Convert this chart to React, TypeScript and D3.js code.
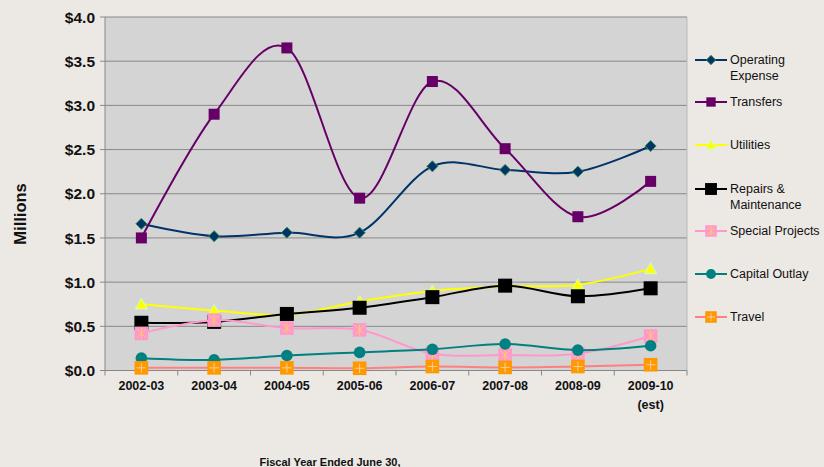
import React from "react";
import * as d3 from "d3";

const categories = ["2002-03", "2003-04", "2004-05", "2005-06", "2006-07", "2007-08", "2008-09", "2009-10"];
const yTicks = [0, 0.5, 1.0, 1.5, 2.0, 2.5, 3.0, 3.5, 4.0];

const operatingExpense = [1.66, 1.52, 1.56, 1.56, 2.31, 2.27, 2.25, 2.54];
const transfers = [1.50, 2.90, 3.65, 1.95, 3.27, 2.51, 1.74, 2.14];
const utilities = [0.75, 0.68, 0.63, 0.78, 0.90, 0.95, 0.97, 1.15];
const repairs = [0.54, 0.55, 0.64, 0.71, 0.83, 0.96, 0.84, 0.93];
const specialProjects = [0.42, 0.57, 0.48, 0.46, 0.19, 0.175, 0.19, 0.39];
const capitalOutlay = [0.14, 0.12, 0.17, 0.205, 0.24, 0.30, 0.23, 0.28];
const travel = [0.03, 0.03, 0.03, 0.025, 0.045, 0.035, 0.045, 0.065];

type Marker = "diamond" | "square" | "triangle" | "bigsquare" | "starsquare" | "circle" | "plussquare";
interface Series { name: string[]; values: number[]; color: string; marker: Marker; }

const series: Series[] = [
  { name: ["Operating", "Expense"], values: operatingExpense, color: "#003366", marker: "diamond" },
  { name: ["Transfers"], values: transfers, color: "#660066", marker: "square" },
  { name: ["Utilities"], values: utilities, color: "#FFFF00", marker: "triangle" },
  { name: ["Repairs &", "Maintenance"], values: repairs, color: "#000000", marker: "bigsquare" },
  { name: ["Special Projects"], values: specialProjects, color: "#FF99CC", marker: "starsquare" },
  { name: ["Capital Outlay"], values: capitalOutlay, color: "#008080", marker: "circle" },
  { name: ["Travel"], values: travel, color: "#FF8080", marker: "plussquare" },
];

const legendY = [60, 102, 145, 189, 231, 274, 317];

const W = 824, H = 467;
const plot = { left: 105, right: 687, top: 17, bottom: 370.5 };

function MarkerShape({ m, x, y, color, legend }: { m: Marker; x: number; y: number; color: string; legend?: boolean }) {
  const s = legend ? 0.85 : 1;
  switch (m) {
    case "diamond": {
      const r = 5.5 * s;
      return <path d={`M${x},${y - r}L${x + r},${y}L${x},${y + r}L${x - r},${y}Z`} fill="#003366" stroke="#2E8B57" strokeWidth={1} />;
    }
    case "square": {
      const r = 5.5 * s;
      return <rect x={x - r} y={y - r} width={2 * r} height={2 * r} fill="#660066" />;
    }
    case "triangle": {
      const r = 6 * s;
      return <path d={`M${x},${y - r}L${x + r},${y + r * 0.8}L${x - r},${y + r * 0.8}Z`} fill="#FFFF00" stroke="#CCFFCC" strokeWidth={1} />;
    }
    case "bigsquare": {
      const r = 7 * s;
      return <rect x={x - r} y={y - r} width={2 * r} height={2 * r} fill="#000000" />;
    }
    case "starsquare": {
      const r = 6.8 * s;
      const q = r * 0.65;
      return (
        <g>
          <rect x={x - r} y={y - r} width={2 * r} height={2 * r} fill="#FF99CC" />
          <path d={`M${x - q},${y - q}L${x + q},${y + q}M${x + q},${y - q}L${x - q},${y + q}M${x},${y - r * 0.8}L${x},${y + r * 0.8}`} stroke="#FFCC66" strokeWidth={1} />
        </g>
      );
    }
    case "circle":
      return <circle cx={x} cy={y} r={5.8 * s} fill="#008080" />;
    case "plussquare": {
      const r = 6.8 * s;
      const q = r * 0.7;
      return (
        <g>
          <rect x={x - r} y={y - r} width={2 * r} height={2 * r} fill="#FF9900" />
          <path d={`M${x - q},${y}L${x + q},${y}M${x},${y - q}L${x},${y + q}`} stroke="#FFCC99" strokeWidth={1} />
        </g>
      );
    }
  }
  return null;
}

export default function App() {
  const x = d3.scaleBand<string>().domain(categories).range([plot.left, plot.right]);
  const y = d3.scaleLinear().domain([0, 4]).range([plot.bottom, plot.top]);
  const cx = (c: string) => (x(c) ?? 0) + x.bandwidth() / 2;
  const line = d3.line<number>()
    .x((_, i) => cx(categories[i]))
    .y((v) => y(v))
    .curve(d3.curveCardinal.tension(0));
  const font = "'Liberation Sans', Arial, sans-serif";
  const boundaries = [...categories.map((c) => x(c) ?? 0), plot.right];

  return (
    <svg width={W} height={H} style={{ position: "absolute", left: 0, top: 0 }} fontFamily={font}>
      <rect x={0} y={0} width={W} height={H} fill="#ECE8E4" />
      <rect x={plot.left} y={plot.top} width={plot.right - plot.left} height={plot.bottom - plot.top} fill="#D4D4D4" />
      {yTicks.map((t) => (
        <g key={t}>
          <line x1={plot.left - 5} x2={plot.right} y1={y(t)} y2={y(t)} stroke="#888888" strokeWidth={1} />
          <text x={95} y={y(t)} dy="0.36em" textAnchor="end" fontSize={15.5} fontWeight="bold" fill="#111">
            {`$${t.toFixed(1)}`}
          </text>
        </g>
      ))}
      <line x1={plot.left} x2={plot.left} y1={plot.top} y2={plot.bottom} stroke="#888888" />
      <line x1={plot.right} x2={plot.right} y1={plot.top} y2={plot.bottom} stroke="#BBBBBB" />
      <line x1={plot.left} x2={plot.right} y1={plot.bottom} y2={plot.bottom} stroke="#888888" />
      {boundaries.map((b, i) => (
        <line key={i} x1={b} x2={b} y1={plot.bottom} y2={plot.bottom + 5} stroke="#888888" />
      ))}
      {categories.map((c) => (
        <text key={c} x={cx(c)} y={390} textAnchor="middle" fontSize={12.5} fontWeight="bold" fill="#111">{c}</text>
      ))}
      <text x={cx(categories[7])} y={409} textAnchor="middle" fontSize={12.5} fontWeight="bold" fill="#111">(est)</text>
      <text x={330} y={466} textAnchor="middle" fontSize={11} fontWeight="bold" fill="#111">Fiscal Year Ended June 30,</text>
      <text transform="translate(26,214) rotate(-90)" textAnchor="middle" fontSize={16.5} fontWeight="bold" fill="#111">Millions</text>

      {series.map((s) => (
        <g key={s.name.join(" ")}>
          <path d={line(s.values) ?? ""} fill="none" stroke={s.color} strokeWidth={2} />
          {s.values.map((v, i) => (
            <MarkerShape key={i} m={s.marker} x={cx(categories[i])} y={y(v)} color={s.color} />
          ))}
        </g>
      ))}

      {series.map((s, k) => {
        const ly = legendY[k];
        return (
          <g key={"lg" + k}>
            <line x1={695} x2={727} y1={ly} y2={ly} stroke={s.color} strokeWidth={2} />
            <MarkerShape m={s.marker} x={711} y={ly} color={s.color} legend />
            {s.name.map((n, j) => (
              <text key={j} x={730} y={ly + 4 + j * 16} fontSize={12.5} fill="#111">{n}</text>
            ))}
          </g>
        );
      })}
    </svg>
  );
}
